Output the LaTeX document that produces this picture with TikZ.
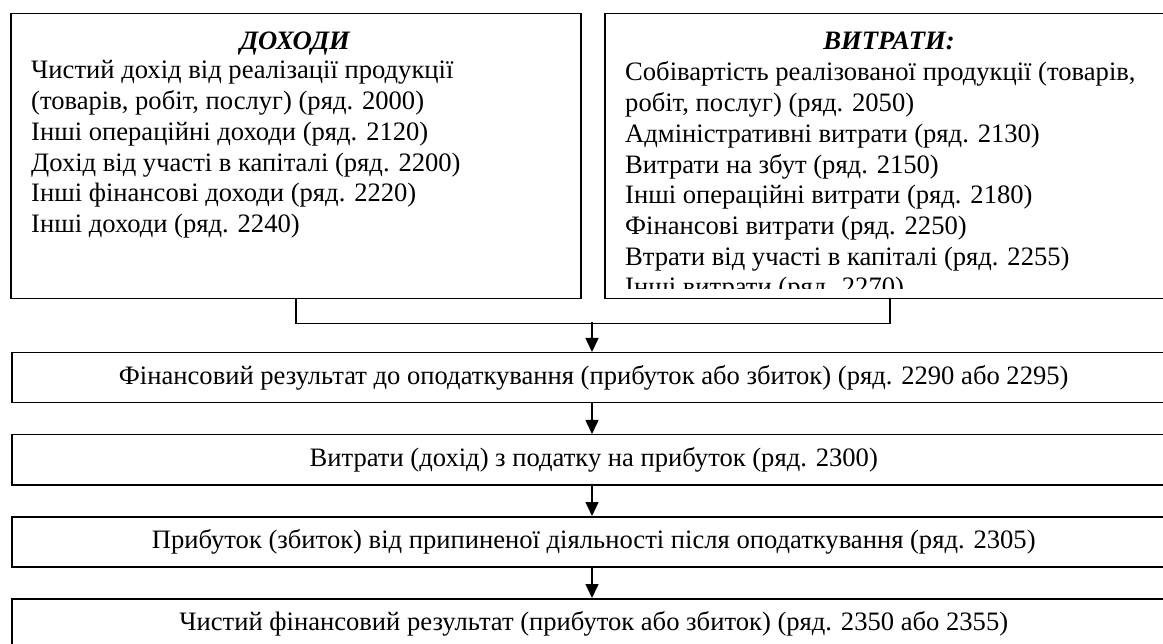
\documentclass[tikz,border=0pt]{standalone}
\usepackage{fontspec}
\setmainfont{Liberation Serif}
\usetikzlibrary{arrows.meta}
\begin{document}
\begin{tikzpicture}[x=1pt,y=-1pt,
  frame/.style={draw, line width=1.5pt, inner sep=0pt, anchor=north west},
  body/.style={font=\fontsize{26.6}{30.7}\selectfont, inner sep=0pt},
  head/.style={font=\fontsize{26.6}{30.7}\selectfont\bfseries\itshape, inner sep=0pt, anchor=base},
  conn/.style={line width=1.5pt},
  arr/.style={line width=1.5pt, -{Triangle[length=14pt,width=13pt]}}]
\useasboundingbox (0,0) rectangle (1163,644);
\clip (0,0) rectangle (1163,644);

% income and expense boxes
\node[frame, minimum width=570, minimum height=285] (inc) at (10,13) {};
\node[frame, minimum width=570, minimum height=285] (exp) at (604,13) {};

\node[head] (inchead) at (295,50) {ДОХОДИ};
\node[head] (exphead) at (889,50) {ВИТРАТИ:};

\foreach \t [count=\i] in {
  {Чистий дохід від реалізації продукції},
  {(товарів, робіт, послуг) (ряд. 2000)},
  {Інші операційні доходи (ряд. 2120)},
  {Дохід від участі в капіталі (ряд. 2200)},
  {Інші фінансові доходи (ряд. 2220)},
  {Інші доходи (ряд. 2240)}}
  \node[body, anchor=base west] (inc\i) at (31,{79+30.7*(\i-1)}) {\t};

\begin{scope}
  \clip (604,13) rectangle (1175,289);
  \foreach \t [count=\i] in {
    {Собівартість реалізованої продукції (товарів,},
    {робіт, послуг) (ряд. 2050)},
    {Адміністративні витрати (ряд. 2130)},
    {Витрати на збут (ряд. 2150)},
    {Інші операційні витрати (ряд. 2180)},
    {Фінансові витрати (ряд. 2250)},
    {Втрати від участі в капіталі (ряд. 2255)},
    {Інші витрати (ряд. 2270)}}
    \node[body, anchor=base west] (exp\i) at (625,{81+30.7*(\i-1)}) {\t};
\end{scope}

% result chain
\node[frame, body, minimum width=1164, minimum height=50] (r1) at (11,352)
  {Фінансовий результат до оподаткування (прибуток або збиток) (ряд. 2290 або 2295)};
\node[frame, body, minimum width=1164, minimum height=50] (r2) at (11,434)
  {Витрати (дохід) з податку на прибуток (ряд. 2300)};
\node[frame, body, minimum width=1164, minimum height=50] (r3) at (11,516)
  {Прибуток (збиток) від припиненої діяльності після оподаткування (ряд. 2305)};
\node[frame, body, minimum width=1164, minimum height=50] (r4) at (11,598)
  {Чистий фінансовий результат (прибуток або збиток) (ряд. 2350 або 2355)};

% connectors
\coordinate (j) at (592,322);
\draw[conn] (inc.south) -- ++(0,24) -| (exp.south);
\draw[arr] (j) -- (j |- r1.north);
\draw[arr] (j |- r1.south) -- (j |- r2.north);
\draw[arr] (j |- r2.south) -- (j |- r3.north);
\draw[arr] (j |- r3.south) -- (j |- r4.north);
\end{tikzpicture}
\end{document}
